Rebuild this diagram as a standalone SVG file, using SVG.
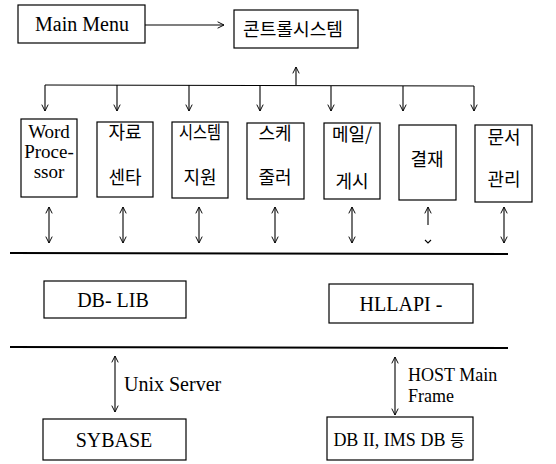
<svg xmlns="http://www.w3.org/2000/svg" width="556" height="464" viewBox="0 0 556 464">
<style>
.box{fill:#fff;stroke:#000;stroke-width:1.2}
.ln{fill:none;stroke:#000;stroke-width:1.1}
.bar{fill:none;stroke:#000;stroke-width:1.8}
.t{font-family:"Liberation Serif","Times New Roman",serif;font-size:20px;fill:#000;text-anchor:middle}
.w{font-size:19px}
.s{font-size:18px}
.k{font-family:"Noto Sans CJK KR","Noto Sans",sans-serif;font-size:18px;fill:#000;text-anchor:middle}
.l{text-anchor:start}
</style>
<defs>
<marker id="ah" viewBox="0 0 10 10" refX="9" refY="5" markerWidth="8" markerHeight="8" orient="auto-start-reverse" markerUnits="userSpaceOnUse">
<polyline points="1,1 9,5 1,9" fill="none" stroke="#000" stroke-width="1.2"/>
</marker>
</defs>
<rect width="556" height="464" fill="#fff"/>
<g id="connectors">
<line class="ln" x1="145" y1="25" x2="224" y2="25" marker-end="url(#ah)"/>
<line class="ln" x1="296" y1="85" x2="296" y2="67" marker-end="url(#ah)"/>
<polyline class="ln" points="45,85 474,86"/>
<line class="ln" x1="45" y1="85" x2="45" y2="111" marker-end="url(#ah)"/>
<line class="ln" x1="117" y1="85" x2="117" y2="111" marker-end="url(#ah)"/>
<line class="ln" x1="189" y1="85" x2="189" y2="111" marker-end="url(#ah)"/>
<line class="ln" x1="260" y1="85" x2="260" y2="111" marker-end="url(#ah)"/>
<line class="ln" x1="331" y1="86" x2="331" y2="111" marker-end="url(#ah)"/>
<line class="ln" x1="403" y1="86" x2="403" y2="111" marker-end="url(#ah)"/>
<line class="ln" x1="474" y1="86" x2="474" y2="111" marker-end="url(#ah)"/>
<line class="ln" x1="49" y1="207" x2="49" y2="243" marker-start="url(#ah)" marker-end="url(#ah)"/>
<line class="ln" x1="123" y1="207" x2="123" y2="243" marker-start="url(#ah)" marker-end="url(#ah)"/>
<line class="ln" x1="199" y1="207" x2="199" y2="243" marker-start="url(#ah)" marker-end="url(#ah)"/>
<line class="ln" x1="275" y1="207" x2="275" y2="243" marker-start="url(#ah)" marker-end="url(#ah)"/>
<line class="ln" x1="352" y1="207" x2="352" y2="243" marker-start="url(#ah)" marker-end="url(#ah)"/>
<line class="ln" x1="428" y1="207" x2="428" y2="225" marker-start="url(#ah)"/>
<polyline class="ln" points="425,240 428,243 431,240"/>
<line class="ln" x1="504" y1="207" x2="504" y2="243" marker-start="url(#ah)" marker-end="url(#ah)"/>
<line class="bar" x1="10" y1="253" x2="508" y2="254"/>
<line class="bar" x1="10" y1="347" x2="508" y2="348"/>
<line class="ln" x1="115" y1="356" x2="115" y2="412" marker-start="url(#ah)" marker-end="url(#ah)"/>
<line class="ln" x1="395" y1="357" x2="395" y2="415" marker-start="url(#ah)" marker-end="url(#ah)"/>
<text class="t l" x="124" y="391">Unix Server</text>
<text class="t s l" x="408" y="381">HOST Main</text>
<text class="t s l" x="408" y="402">Frame</text>
</g>
<g id="mainmenu"><rect class="box" x="18" y="5" width="127" height="38"/><text class="t" x="82" y="31">Main Menu</text></g>
<g id="control"><rect class="box" x="234" y="10" width="124" height="38"/><text class="k" x="293" y="36" textLength="100" lengthAdjust="spacingAndGlyphs">콘트롤시스템</text></g>
<g id="word"><rect class="box" x="21" y="119" width="56" height="78"/><text class="t w" x="49" y="138">Word</text><text class="t w" x="49" y="158">Proce-</text><text class="t w" x="49" y="178">ssor</text></g>
<g id="jaryo"><rect class="box" x="97" y="122" width="56" height="75"/><text class="k" x="125" y="139">자료</text><text class="k" x="125" y="184">센타</text></g>
<g id="system"><rect class="box" x="172" y="122" width="56" height="76"/><text class="k" x="200" y="139" textLength="42" lengthAdjust="spacingAndGlyphs">시스템</text><text class="k" x="200" y="184">지원</text></g>
<g id="scheduler"><rect class="box" x="247" y="123" width="57" height="76"/><text class="k" x="275" y="140">스케</text><text class="k" x="275" y="184">줄러</text></g>
<g id="mail"><rect class="box" x="324" y="123" width="56" height="76"/><text class="k" x="352" y="141">메일/</text><text class="k" x="352" y="188">게시</text></g>
<g id="gyeoljae"><rect class="box" x="399" y="125" width="57" height="75"/><text class="k" x="427" y="166">결재</text></g>
<g id="munseo"><rect class="box" x="475" y="125" width="57" height="77"/><text class="k" x="504" y="144">문서</text><text class="k" x="504" y="186">관리</text></g>
<g id="dblib"><rect class="box" x="44" y="281" width="142" height="37"/><text class="t" x="113" y="307">DB- LIB</text></g>
<g id="hllapi"><rect class="box" x="329" y="284" width="144" height="39"/><text class="t" x="401" y="311">HLLAPI -</text></g>
<g id="sybase"><rect class="box" x="43" y="419" width="143" height="41"/><text class="t" x="114" y="447">SYBASE</text></g>
<g id="db2"><rect class="box" x="327" y="417" width="146" height="43"/><text class="t s" x="399" y="446">DB II, IMS DB <tspan font-family="Noto Sans CJK KR, sans-serif" font-size="16">등</tspan></text></g>
</svg>
